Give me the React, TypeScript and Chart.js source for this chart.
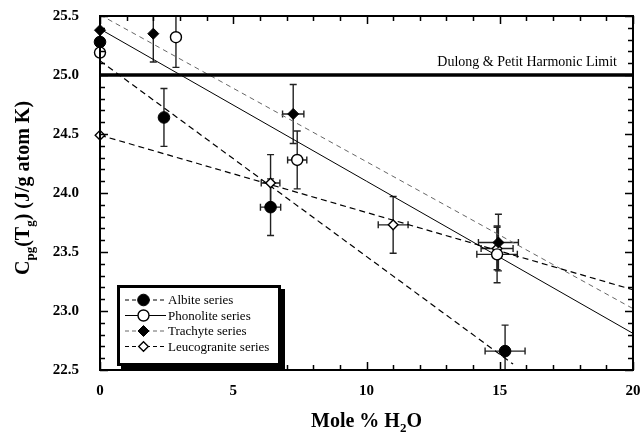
import React, { useEffect, useRef } from 'react';
import { Chart, registerables } from 'chart.js';
Chart.register(...registerables);

// ---- data ----
const seriesNames = ['Albite series', 'Phonolite series', 'Trachyte series', 'Leucogranite series'];

const albiteX = [0, 2.4, 6.4, 15.2];
const albiteY = [25.28, 24.64, 23.88, 22.66];
const albiteXErr = [0, 0, 0.38, 0.75];
const albiteYErr = [0, 0.245, 0.24, 0.22];

const phonoliteX = [0, 2.85, 7.4, 14.9];
const phonoliteY = [25.19, 25.32, 24.28, 23.48];
const phonoliteXErr = [0, 0, 0.36, 0.76];
const phonoliteYErr = [0, 0.255, 0.245, 0.24];

const trachyteX = [0, 2.0, 7.25, 14.95];
const trachyteY = [25.38, 25.35, 24.67, 23.58];
const trachyteXErr = [0, 0, 0.4, 0.75];
const trachyteYErr = [0, 0.24, 0.25, 0.24];

const leucograniteX = [0, 6.4, 11.0, 14.9];
const leucograniteY = [24.49, 24.085, 23.73, 23.53];
const leucograniteXErr = [0, 0.35, 0.56, 0.6];
const leucograniteYErr = [0, 0.24, 0.24, 0.18];

const albiteFitX = [0, 15.5];
const albiteFitY = [25.12, 22.55];
const phonoliteFitX = [0, 20];
const phonoliteFitY = [25.39, 22.81];
const trachyteFitX = [0, 20];
const trachyteFitY = [25.51, 23.02];
const leucograniteFitX = [0, 20];
const leucograniteFitY = [24.49, 23.18];

const limitX = [0, 20];
const limitY = [25.0, 25.0];
const limitLabel = 'Dulong & Petit Harmonic Limit';
const limitLabelX = 19.4;

const xMin = 0, xMax = 20, xMajor = 5, xMinor = 1;
const yMin = 22.5, yMax = 25.5, yMajor = 0.5, yMinor = 0.1;

const FONT = '"Liberation Serif", "Times New Roman", serif';

const toPts = (xs: number[], ys: number[]) => xs.map((x, i) => ({ x, y: ys[i] }));

type Style = {
  marker: 'circle' | 'diamond';
  filled: boolean;
  r: number;
  lineColor: string;
  dash: number[];
  lineWidth: number;
};
const styles: Style[] = [
  { marker: 'circle', filled: true, r: 5.8, lineColor: '#000', dash: [6, 4], lineWidth: 1.2 },
  { marker: 'circle', filled: false, r: 5.5, lineColor: '#000', dash: [], lineWidth: 1 },
  { marker: 'diamond', filled: true, r: 5.5, lineColor: '#666', dash: [5, 4], lineWidth: 1 },
  { marker: 'diamond', filled: false, r: 4.8, lineColor: '#000', dash: [6, 4], lineWidth: 1.2 },
];

const seriesX = [albiteX, phonoliteX, trachyteX, leucograniteX];
const seriesY = [albiteY, phonoliteY, trachyteY, leucograniteY];
const seriesXErr = [albiteXErr, phonoliteXErr, trachyteXErr, leucograniteXErr];
const seriesYErr = [albiteYErr, phonoliteYErr, trachyteYErr, leucograniteYErr];
const fitX = [albiteFitX, phonoliteFitX, trachyteFitX, leucograniteFitX];
const fitY = [albiteFitY, phonoliteFitY, trachyteFitY, leucograniteFitY];

function drawMarker(ctx: CanvasRenderingContext2D, x: number, y: number, s: Style) {
  ctx.save();
  ctx.setLineDash([]);
  ctx.beginPath();
  if (s.marker === 'circle') {
    ctx.arc(x, y, s.r, 0, Math.PI * 2);
  } else {
    ctx.moveTo(x - s.r, y);
    ctx.lineTo(x, y - s.r);
    ctx.lineTo(x + s.r, y);
    ctx.lineTo(x, y + s.r);
    ctx.closePath();
  }
  ctx.fillStyle = s.filled ? '#000' : '#fff';
  ctx.fill();
  ctx.lineWidth = s.filled ? 1 : 1.4;
  ctx.strokeStyle = '#000';
  ctx.stroke();
  ctx.restore();
}

const errorBarPlugin = {
  id: 'errorBars',
  beforeDatasetsDraw(chart: any) {
    const { ctx, chartArea, scales } = chart;
    const xs = scales.x, ys = scales.y;
    ctx.save();
    ctx.beginPath();
    ctx.rect(chartArea.left, chartArea.top, chartArea.right - chartArea.left, chartArea.bottom - chartArea.top);
    ctx.clip();
    ctx.strokeStyle = '#222';
    ctx.lineWidth = 1.4;
    const cap = 3.5;
    for (let s = 0; s < 4; s++) {
      for (let i = 0; i < seriesX[s].length; i++) {
        const px = xs.getPixelForValue(seriesX[s][i]);
        const py = ys.getPixelForValue(seriesY[s][i]);
        const ye = seriesYErr[s][i];
        const xe = seriesXErr[s][i];
        if (ye > 0) {
          const t = ys.getPixelForValue(seriesY[s][i] + ye);
          const b = ys.getPixelForValue(seriesY[s][i] - ye);
          ctx.beginPath();
          ctx.moveTo(px, t); ctx.lineTo(px, b);
          ctx.moveTo(px - cap, t); ctx.lineTo(px + cap, t);
          ctx.moveTo(px - cap, b); ctx.lineTo(px + cap, b);
          ctx.stroke();
        }
        if (xe > 0) {
          const l = xs.getPixelForValue(seriesX[s][i] - xe);
          const r = xs.getPixelForValue(seriesX[s][i] + xe);
          ctx.beginPath();
          ctx.moveTo(l, py); ctx.lineTo(r, py);
          ctx.moveTo(l, py - cap); ctx.lineTo(l, py + cap);
          ctx.moveTo(r, py - cap); ctx.lineTo(r, py + cap);
          ctx.stroke();
        }
      }
    }
    ctx.restore();
  },
};

const framePlugin = {
  id: 'frame',
  afterDatasetsDraw(chart: any) {
    const { ctx, chartArea, scales } = chart;
    const { left, right, top, bottom } = chartArea;
    const xs = scales.x, ys = scales.y;
    ctx.save();
    ctx.strokeStyle = '#000';
    ctx.lineWidth = 1.5;
    ctx.setLineDash([]);
    ctx.beginPath();
    const nx = Math.round((xMax - xMin) / xMinor);
    for (let k = 0; k <= nx; k++) {
      const v = xMin + k * xMinor;
      const p = Math.round(xs.getPixelForValue(v)) + 0.5;
      const len = Math.abs(v / xMajor - Math.round(v / xMajor)) < 1e-6 ? 8 : 5;
      ctx.moveTo(p, bottom); ctx.lineTo(p, bottom - len);
      ctx.moveTo(p, top); ctx.lineTo(p, top + len);
    }
    const ny = Math.round((yMax - yMin) / yMinor);
    for (let k = 0; k <= ny; k++) {
      const v = yMin + k * yMinor;
      const p = Math.round(ys.getPixelForValue(v)) + 0.5;
      const len = Math.abs(v / yMajor - Math.round(v / yMajor)) < 1e-6 ? 8 : 5;
      ctx.moveTo(left, p); ctx.lineTo(left + len, p);
      ctx.moveTo(right, p); ctx.lineTo(right - len, p);
    }
    ctx.stroke();
    ctx.lineWidth = 2;
    ctx.strokeRect(left, top, right - left, bottom - top);

    ctx.fillStyle = '#000';
    ctx.font = `14px ${FONT}`;
    ctx.textAlign = 'right';
    ctx.textBaseline = 'alphabetic';
    ctx.fillText(limitLabel, xs.getPixelForValue(limitLabelX), ys.getPixelForValue(limitY[0]) - 9);
    ctx.restore();
  },
};

const legendPlugin = {
  id: 'customLegend',
  afterDraw(chart: any) {
    const { ctx } = chart;
    const bx = 117, by = 285, bw = 164, bh = 81;
    ctx.save();
    ctx.fillStyle = '#000';
    ctx.fillRect(bx + 4, by + 4, bw, bh);
    ctx.fillStyle = '#fff';
    ctx.fillRect(bx, by, bw, bh);
    ctx.strokeStyle = '#000';
    ctx.lineWidth = 3;
    ctx.strokeRect(bx + 1.5, by + 1.5, bw - 3, bh - 3);
    const rows = [300, 315.5, 331, 346.5];
    ctx.font = `13px ${FONT}`;
    ctx.textAlign = 'left';
    ctx.textBaseline = 'middle';
    for (let s = 0; s < 4; s++) {
      const st = styles[s];
      const y = rows[s];
      ctx.beginPath();
      ctx.strokeStyle = st.lineColor;
      ctx.lineWidth = st.lineWidth;
      ctx.setLineDash(st.dash.length ? [4, 3] : []);
      ctx.moveTo(125, y); ctx.lineTo(166, y);
      ctx.stroke();
      ctx.setLineDash([]);
      drawMarker(ctx, 143.5, y, st);
      ctx.fillStyle = '#000';
      ctx.fillText(seriesNames[s], 168, y + 1);
    }
    ctx.restore();
  },
};

function drawRich(ctx: CanvasRenderingContext2D, parts: { t: string; sub?: boolean }[], big: number, small: number, cx: number, cy: number) {
  const fb = `bold ${big}px ${FONT}`;
  const fs = `bold ${small}px ${FONT}`;
  let total = 0;
  for (const p of parts) { ctx.font = p.sub ? fs : fb; total += ctx.measureText(p.t).width; }
  let x = cx - total / 2;
  for (const p of parts) {
    ctx.font = p.sub ? fs : fb;
    ctx.fillText(p.t, x, cy + (p.sub ? 5 : 0));
    x += ctx.measureText(p.t).width;
  }
}

const titlePlugin = {
  id: 'titles',
  afterDraw(chart: any) {
    const { ctx, chartArea } = chart;
    ctx.save();
    ctx.fillStyle = '#000';
    ctx.textAlign = 'left';
    ctx.textBaseline = 'alphabetic';
    const cx = (chartArea.left + chartArea.right) / 2;
    drawRich(ctx, [{ t: 'Mole % H' }, { t: '2', sub: true }, { t: 'O' }], 20, 13, cx, 427);
    ctx.translate(29, 188);
    ctx.rotate(-Math.PI / 2);
    drawRich(ctx, [{ t: 'C' }, { t: 'pg', sub: true }, { t: '(T' }, { t: 'g', sub: true }, { t: ') (J/g atom K)' }], 20, 13, 0, 0);
    ctx.restore();
  },
};

export default function App() {
  const ref = useRef<HTMLCanvasElement>(null);
  useEffect(() => {
    if (!ref.current) return;
    const pointSets = [0, 1, 2, 3].map((s) => {
      const st = styles[s];
      return {
        type: 'scatter' as const,
        label: seriesNames[s],
        data: toPts(seriesX[s], seriesY[s]),
        showLine: false,
        pointStyle: st.marker === 'circle' ? 'circle' : 'rectRot',
        pointRadius: st.r,
        pointBackgroundColor: st.filled ? '#000' : '#fff',
        pointBorderColor: '#000',
        pointBorderWidth: st.filled ? 1 : 1.4,
        clip: false as any,
        order: s === 3 ? 1 : 0,
      };
    });
    const fitSets = [0, 1, 2, 3].map((s) => {
      const st = styles[s];
      return {
        type: 'scatter' as const,
        label: seriesNames[s] + ' fit',
        data: toPts(fitX[s], fitY[s]),
        showLine: true,
        pointRadius: 0,
        borderColor: st.lineColor,
        borderWidth: st.lineWidth,
        borderDash: st.dash,
        order: 3,
      };
    });
    const limitSet = {
      type: 'scatter' as const,
      label: 'limit',
      data: toPts(limitX, limitY),
      showLine: true,
      pointRadius: 0,
      borderColor: '#000',
      borderWidth: 3.5,
      order: 2,
    };
    const chart = new Chart(ref.current, {
      type: 'scatter',
      data: { datasets: [...pointSets, ...fitSets, limitSet] as any },
      options: {
        responsive: false,
        animation: false,
        events: [],
        layout: { padding: { left: 0, top: 16, right: 9, bottom: 0 } },
        plugins: { legend: { display: false }, tooltip: { enabled: false }, title: { display: false } },
        scales: {
          x: {
            type: 'linear',
            min: xMin,
            max: xMax,
            grid: { display: false, drawTicks: false },
            border: { display: false },
            ticks: {
              stepSize: xMajor,
              color: '#000',
              padding: 12,
              font: { family: FONT, size: 15, weight: 'bold' },
              callback: (v: any) => String(v),
            },
            afterFit: (sc: any) => { sc.height = 65; sc.paddingLeft = 0; sc.paddingRight = 0; },
          },
          y: {
            type: 'linear',
            min: yMin,
            max: yMax,
            grid: { display: false, drawTicks: false },
            border: { display: false },
            ticks: {
              stepSize: yMajor,
              color: '#000',
              padding: 21,
              font: { family: FONT, size: 15, weight: 'bold' },
              callback: (v: any) => Number(v).toFixed(1),
            },
            afterFit: (sc: any) => { sc.width = 100; sc.paddingTop = 0; sc.paddingBottom = 0; },
          },
        },
      },
      plugins: [errorBarPlugin, framePlugin, legendPlugin, titlePlugin],
    });
    return () => chart.destroy();
  }, []);
  return (
    <div style={{ position: 'absolute', left: 0, top: 0, width: 642, height: 435, background: '#fff' }}>
      <canvas ref={ref} width={642} height={435} style={{ display: 'block', width: 642, height: 435 }} />
    </div>
  );
}
